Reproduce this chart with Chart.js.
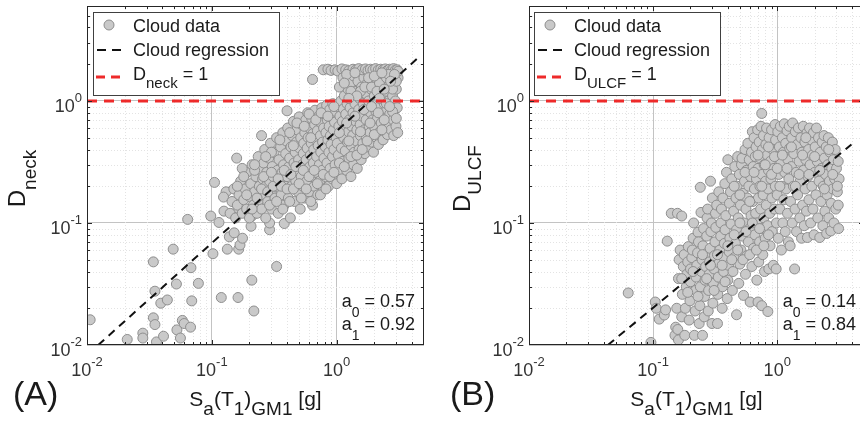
<!DOCTYPE html>
<html>
<head>
<meta charset="utf-8">
<script src="https://cdn.jsdelivr.net/npm/chart.js@4.4.0/dist/chart.umd.min.js"></script>
<style>
html, body { margin: 0; padding: 0; background: #fff; overflow: hidden; width: 860px; height: 424px; }
#wrapA { position: absolute; left: 0; top: 0; }
#wrapB { position: absolute; left: 430px; top: 0; }
</style>
</head>
<body>
<div id="wrapA"><canvas id="chartA" width="430" height="424"></canvas></div>
<div id="wrapB"><canvas id="chartB" width="440" height="424"></canvas></div>
<script>
// axis limits and tick labels (both panels)
const xLimits = [0.01, 5];
const yLimits = [0.01, 6];
const decadeTicks = [0.01, 0.1, 1];
const decadeLabels = [['10', '-2'], ['10', '-1'], ['10', '0']];
const limitValue = 1;

// (A) neck damage vs Sa
const cloudA = [
  [0.0106,0.0161],[0.021,0.0111],[0.028,0.0125],[0.028,0.0114],[0.034,0.0167],[0.035,0.0147],[0.036,0.0106],[0.041,0.0118],
  [0.039,0.022],[0.044,0.0234],[0.035,0.0276],[0.034,0.048],[0.049,0.061],[0.052,0.0316],[0.0525,0.0133],[0.056,0.0114],
  [0.058,0.0159],[0.06,0.015],[0.0675,0.014],[0.069,0.023],[0.068,0.043],[0.078,0.032],[0.064,0.107],[0.098,0.114],
  [0.102,0.056],[0.119,0.0245],[0.162,0.0245],[0.217,0.019],[0.209,0.034],[0.33,0.044],
  [0.133,0.061],[0.164,0.061],[0.168,0.066],[0.138,0.077],[0.151,0.083],[0.176,0.075],
  [0.105,0.215],[0.13,0.18],[0.124,0.163],[0.114,0.101],[0.125,0.125],[0.162,0.131],[0.209,0.114],[0.29,0.088],
  [0.38,0.099],[0.29,0.1],[0.206,0.094],[0.25,0.52],[0.158,0.34],[0.4,0.83],[0.64,1.5],
  [0.14,0.12],[0.145,0.15],[0.15,0.19],[0.155,0.11],[0.16,0.14],[0.165,0.17],[0.17,0.22],[0.175,0.12],[0.18,0.155],
  [0.185,0.19],[0.19,0.26],[0.19,0.13],[0.175,0.28],[0.2,0.11],[0.2,0.165],[0.205,0.21],[0.21,0.3],[0.215,0.14],
  [0.22,0.18],[0.225,0.24],[0.23,0.12],[0.235,0.35],[0.24,0.155],[0.24,0.2],[0.245,0.27],[0.25,0.13],[0.255,0.23],
  [0.26,0.17],[0.26,0.31],[0.265,0.4],[0.27,0.11],[0.27,0.2],[0.275,0.26],[0.28,0.15],[0.285,0.34],[0.29,0.22],
  [0.295,0.45],[0.3,0.13],[0.3,0.18],[0.305,0.29],[0.31,0.24],[0.315,0.38],[0.32,0.16],[0.325,0.2],[0.33,0.5],
  [0.335,0.27],[0.34,0.12],[0.345,0.33],[0.35,0.22],[0.355,0.42],[0.36,0.17],[0.365,0.26],[0.37,0.55],[0.375,0.3],
  [0.38,0.14],[0.385,0.2],[0.39,0.37],[0.395,0.47],[0.4,0.24],[0.405,0.6],[0.41,0.16],[0.415,0.29],[0.42,0.34],
  [0.425,0.11],[0.43,0.42],[0.435,0.2],[0.44,0.52],[0.445,0.25],[0.45,0.68],[0.455,0.31],[0.46,0.15],[0.465,0.38],
  [0.47,0.22],[0.475,0.46],[0.48,0.58],[0.485,0.27],[0.49,0.18],[0.495,0.33],[0.5,0.74],[0.505,0.41],[0.51,0.13],
  [0.515,0.5],[0.52,0.24],[0.525,0.64],[0.53,0.3],[0.535,0.2],[0.54,0.37],[0.545,0.45],[0.55,0.16],[0.555,0.55],
  [0.56,0.27],[0.565,0.7],[0.57,0.33],[0.575,0.22],[0.58,0.41],[0.585,0.8],[0.59,0.5],[0.6,0.18],[0.605,0.6],
  [0.61,0.29],[0.615,0.36],[0.62,0.24],[0.625,0.45],[0.63,0.72],[0.64,0.14],[0.645,0.54],[0.65,0.31],[0.655,0.4],
  [0.66,0.2],[0.665,0.64],[0.67,0.84],[0.68,0.26],[0.685,0.48],[0.69,0.35],[0.7,0.57],[0.705,0.17],[0.71,0.43],
  [0.72,0.75],[0.725,0.3],[0.73,0.22],[0.74,0.52],[0.745,0.38],[0.75,0.66],[0.76,0.88],[0.765,0.27],[0.77,0.46],
  [0.78,0.19],[0.785,0.6],[0.79,0.34],[0.8,0.78],[0.81,0.42],[0.815,0.24],[0.82,0.55],[0.83,0.92],[0.835,0.31],
  [0.84,0.7],[0.85,0.48],[0.86,0.2],[0.865,0.38],[0.87,0.62],[0.88,0.85],[0.885,0.28],[0.89,0.52],[0.9,0.44],
  [0.91,0.74],[0.92,0.23],[0.925,0.35],[0.93,0.95],[0.94,0.58],[0.95,0.4],[0.96,0.67],[0.97,0.3],[0.98,0.82],
  [0.99,0.5],[1.0,0.21],[1.01,0.45],[1.02,0.9],[1.03,0.36],[1.04,0.62],[1.05,0.27],[1.06,0.75],[1.07,0.54],
  [1.08,1.0],[1.09,0.41],[1.1,0.23],[1.11,0.68],[1.12,0.32],[1.13,0.86],[1.14,0.5],[1.15,1.1],[1.16,0.6],
  [1.17,0.39],[1.18,0.78],[1.2,0.27],[1.21,0.95],[1.22,0.46],[1.23,1.25],[1.24,0.56],[1.25,0.34],[1.26,0.7],
  [1.28,0.88],[1.29,1.4],[1.3,0.24],[1.31,0.43],[1.32,0.62],[1.33,1.05],[1.34,0.52],[1.35,0.8],[1.36,0.3],
  [1.37,1.6],[1.38,0.38],[1.4,0.95],[1.42,0.68],[1.43,1.2],[1.44,0.47],[1.45,0.58],[1.46,0.28],[1.48,1.45],
  [1.5,0.85],[1.51,0.4],[1.52,1.05],[1.54,0.64],[1.55,0.52],[1.56,1.75],[1.57,0.33],[1.58,1.3],[1.6,0.75],
  [1.62,0.45],[1.63,0.95],[1.65,1.55],[1.66,0.58],[1.68,0.37],[1.7,1.15],[1.72,0.7],[1.73,0.5],[1.75,0.87],
  [1.76,1.4],[1.78,0.42],[1.8,1.0],[1.82,0.62],[1.83,1.7],[1.85,0.55],[1.87,0.8],[1.88,1.25],[1.9,0.46],
  [1.92,1.5],[1.94,0.7],[1.95,0.95],[1.97,0.38],[2.0,1.1],[2.02,0.6],[2.04,1.35],[2.06,0.82],[2.08,0.5],
  [2.1,1.65],[2.12,0.72],[2.14,1.0],[2.16,0.44],[2.18,1.22],[2.2,0.9],[2.22,0.56],[2.25,1.5],[2.27,0.66],
  [2.3,1.1],[2.32,0.78],[2.35,0.48],[2.37,1.35],[2.4,0.95],[2.42,0.6],[2.45,1.7],[2.47,0.72],[2.5,1.2],
  [2.52,0.85],[2.55,0.53],[2.58,1.45],[2.6,1.0],[2.63,0.65],[2.66,0.78],[2.7,1.3],[2.72,0.58],[2.75,0.92],
  [2.78,1.6],[2.8,1.1],[2.83,0.7],[2.86,0.52],[2.9,1.4],[2.92,0.85],[2.95,1.0],[2.98,0.62],[3.0,1.25],
  [3.05,0.88],[3.08,0.55],[3.1,1.55],
  [0.78,1.8],[0.85,1.82],[0.9,1.78],[0.97,1.8],[1.02,1.76],[1.1,1.83],[1.18,1.8],[1.25,1.77],[1.35,1.82],
  [1.42,1.79],[1.5,1.84],[1.6,1.8],[1.7,1.83],[1.78,1.78],[1.86,1.82],[1.95,1.8],[2.05,1.84],[2.15,1.79],
  [2.25,1.82],[2.35,1.8],[2.45,1.83],[2.55,1.78],[2.65,1.82],[2.75,1.8],[2.85,1.84],[2.95,1.79],[3.05,1.8],[3.1,1.75],
  [1.05,1.3],[1.12,1.55],[1.2,1.65],[1.3,1.2],[1.15,1.4],[1.4,1.7],[1.55,1.2],[1.68,1.3],[1.9,1.3],[2.2,1.4],
  [2.5,1.55],[2.8,1.25],[3.0,1.45],[2.1,1.2],[2.4,1.25],[2.6,1.65],[2.9,1.65],[1.8,1.55],[2.0,1.6],[1.45,1.1],
  [1.25,1.05],[2.3,1.7],[2.7,1.45],
  [0.16,0.2],[0.18,0.24],[0.19,0.17],[0.21,0.13],[0.22,0.27],[0.23,0.16],[0.25,0.19],[0.26,0.24],[0.28,0.18],
  [0.29,0.14],[0.3,0.26],[0.31,0.2],[0.33,0.15],[0.34,0.23],[0.36,0.2],[0.37,0.13],[0.38,0.27],[0.4,0.19],
  [0.42,0.15],[0.43,0.25],[0.45,0.19],[0.47,0.29],[0.5,0.21],[0.52,0.16],[0.54,0.27],[0.57,0.19],[0.6,0.24],
  [0.62,0.15],[0.66,0.27],[0.7,0.21],[0.74,0.17],[0.78,0.25],[0.82,0.19],[0.88,0.24],[0.95,0.26],[1.05,0.31],
  [1.15,0.29],[1.3,0.35],[1.45,0.36],[1.6,0.4],[1.75,0.47],[2.0,0.53],[2.3,0.58],
  [0.35,0.48],[0.42,0.55],[0.48,0.66],[0.55,0.62],[0.6,0.78],[0.68,0.7],[0.75,0.8],[0.85,0.75],[0.95,0.9],
  [0.3,0.38],[0.27,0.35],[0.22,0.3],[0.45,0.43],[0.62,0.5],
  [1.05,0.55],[1.2,0.66],[1.4,0.75],[1.65,0.85],[1.9,0.9],[2.2,1.05],[2.5,0.95],[2.8,0.82],[3.0,0.72],
  [1.25,0.47],[1.55,0.56],[1.85,0.66],[2.15,0.8],[2.4,0.7],[2.65,0.9]
];
const regressionA = [[0.0123, 0.01], [4.45, 2.24]];
const coefA = ['0.57', '0.92'];

// (B) ULCF damage vs Sa
const cloudB = [
  [0.063,0.0267],[0.096,0.0105],[0.104,0.0225],[0.106,0.02],[0.112,0.0163],[0.123,0.0176],[0.126,0.0194],[0.13,0.071],[0.14,0.12],
  [0.15,0.012],[0.152,0.014],[0.155,0.02],[0.158,0.0134],[0.16,0.011],[0.16,0.035],[0.162,0.05],[0.165,0.06],[0.157,0.12],
  [0.17,0.017],[0.172,0.026],[0.175,0.044],[0.178,0.055],[0.17,0.114],[0.18,0.012],[0.182,0.02],[0.185,0.03],[0.187,0.038],
  [0.19,0.048],[0.192,0.064],[0.195,0.016],[0.198,0.023],[0.2,0.033],[0.2,0.042],[0.205,0.052],[0.207,0.06],[0.21,0.075],
  [0.212,0.1],[0.215,0.012],[0.218,0.019],[0.22,0.028],[0.222,0.036],[0.225,0.045],[0.228,0.057],[0.23,0.084],[0.232,0.07],
  [0.235,0.015],[0.238,0.021],[0.24,0.03],[0.243,0.122],[0.24,0.196],[0.245,0.04],[0.248,0.05],[0.25,0.012],[0.252,0.065],
  [0.255,0.09],[0.258,0.017],[0.26,0.025],[0.262,0.034],[0.265,0.044],[0.268,0.056],[0.27,0.078],[0.272,0.11],[0.275,0.13],
  [0.278,0.019],[0.28,0.028],[0.283,0.038],[0.285,0.048],[0.288,0.062],[0.29,0.22],[0.292,0.085],[0.295,0.1],[0.298,0.015],
  [0.3,0.16],[0.303,0.022],[0.306,0.032],[0.31,0.042],[0.312,0.054],[0.315,0.07],[0.318,0.12],[0.32,0.092],[0.325,0.14],
  [0.33,0.015],[0.332,0.026],[0.335,0.036],[0.338,0.18],[0.34,0.047],[0.345,0.06],[0.35,0.078],[0.352,0.1],[0.355,0.13],
  [0.36,0.02],[0.362,0.03],[0.365,0.16],[0.37,0.04],[0.372,0.052],[0.375,0.068],[0.378,0.21],[0.38,0.088],[0.385,0.115],
  [0.39,0.26],[0.395,0.024],[0.4,0.034],[0.4,0.33],[0.405,0.045],[0.41,0.058],[0.412,0.145],[0.415,0.075],[0.42,0.18],
  [0.425,0.098],[0.43,0.23],[0.435,0.028],[0.44,0.04],[0.445,0.125],[0.45,0.052],[0.455,0.29],[0.46,0.068],[0.465,0.16],
  [0.47,0.0177],[0.47,0.088],[0.475,0.2],[0.48,0.35],[0.485,0.11],[0.49,0.032],[0.495,0.25],[0.5,0.046],[0.505,0.14],
  [0.51,0.06],[0.515,0.3],[0.52,0.34],[0.525,0.078],[0.53,0.175],[0.535,0.0255],[0.54,0.1],[0.545,0.22],[0.55,0.4],
  [0.555,0.038],[0.56,0.13],[0.565,0.27],[0.57,0.054],[0.575,0.16],[0.58,0.45],[0.585,0.07],[0.59,0.2],[0.595,0.33],
  [0.6,0.09],[0.605,0.0225],[0.61,0.24],[0.615,0.115],[0.62,0.38],[0.625,0.044],[0.63,0.56],[0.635,0.15],[0.64,0.29],
  [0.645,0.062],[0.65,0.5],[0.655,0.19],[0.66,0.08],[0.665,0.35],[0.67,0.12],[0.675,0.42],[0.68,0.23],[0.685,0.034],
  [0.69,0.1],[0.695,0.58],[0.7,0.0225],[0.7,0.28],[0.705,0.16],[0.71,0.048],[0.715,0.46],[0.72,0.07],[0.725,0.2],
  [0.73,0.34],[0.735,0.13],[0.74,0.62],[0.745,0.09],[0.75,0.021],[0.75,0.79],[0.755,0.25],[0.76,0.4],[0.765,0.055],
  [0.77,0.17],[0.775,0.52],[0.78,0.11],[0.785,0.3],[0.79,0.04],[0.8,0.075],[0.805,0.22],[0.81,0.44],[0.815,0.14],
  [0.82,0.6],[0.83,0.36],[0.835,0.095],[0.84,0.0188],[0.845,0.19],[0.85,0.27],[0.855,0.042],[0.86,0.5],[0.87,0.12],
  [0.875,0.065],[0.88,0.32],[0.89,0.23],[0.9,0.58],[0.905,0.16],[0.91,0.085],[0.92,0.4],[0.93,0.045],[0.94,0.28],
  [0.95,0.13],[0.96,0.64],[0.965,0.2],[0.97,0.48],[0.98,0.042],[0.985,0.1],[0.99,0.35],[1.0,0.17],[1.01,0.56],
  [1.02,0.075],[1.03,0.25],[1.04,0.42],[1.05,0.13],[1.06,0.62],[1.07,0.31],[1.08,0.06],[1.09,0.2],[1.1,0.5],
  [1.11,0.1],[1.12,0.38],[1.13,0.155],[1.14,0.65],[1.15,0.26],[1.16,0.085],[1.17,0.45],[1.18,0.19],[1.2,0.57],
  [1.21,0.12],[1.22,0.33],[1.23,0.07],[1.24,0.23],[1.25,0.62],[1.26,0.41],[1.27,0.065],[1.28,0.15],[1.3,0.29],
  [1.31,0.5],[1.32,0.1],[1.33,0.66],[1.35,0.2],[1.36,0.37],[1.38,0.042],[1.39,0.13],[1.4,0.56],[1.42,0.26],
  [1.43,0.085],[1.45,0.44],[1.46,0.17],[1.48,0.6],[1.5,0.32],[1.52,0.11],[1.53,0.22],[1.55,0.5],[1.57,0.075],
  [1.58,0.38],[1.6,0.14],[1.62,0.62],[1.63,0.27],[1.65,0.095],[1.67,0.46],[1.68,0.19],[1.7,0.33],[1.72,0.125],
  [1.74,0.55],[1.75,0.076],[1.77,0.24],[1.79,0.4],[1.8,0.155],[1.82,0.6],[1.84,0.3],[1.86,0.1],[1.88,0.48],
  [1.9,0.2],[1.92,0.36],[1.94,0.13],[1.96,0.55],[1.98,0.08],[2.0,0.26],[2.02,0.42],[2.05,0.17],[2.07,0.6],
  [2.1,0.32],[2.12,0.11],[2.15,0.5],[2.17,0.22],[2.2,0.076],[2.22,0.38],[2.25,0.15],[2.27,0.28],[2.3,0.46],
  [2.33,0.095],[2.35,0.2],[2.38,0.52],[2.4,0.34],[2.42,0.125],[2.45,0.25],[2.48,0.42],[2.5,0.082],[2.52,0.17],
  [2.55,0.3],[2.58,0.5],[2.6,0.11],[2.63,0.22],[2.66,0.38],[2.7,0.086],[2.72,0.145],[2.75,0.28],[2.78,0.46],
  [2.8,0.19],[2.83,0.33],[2.86,0.1],[2.9,0.23],[2.93,0.4],[2.96,0.13],[3.0,0.28],[3.05,0.18],[3.1,0.32],
  [3.12,0.09],[3.15,0.23],[3.1,0.14],[3.05,0.2],
  [0.17,0.035],[0.19,0.027],[0.21,0.04],[0.23,0.025],[0.25,0.055],[0.27,0.035],[0.29,0.045],[0.31,0.028],
  [0.33,0.055],[0.36,0.045],[0.38,0.033],[0.4,0.065],[0.43,0.05],[0.45,0.08],[0.48,0.06],[0.5,0.1],[0.53,0.05],
  [0.56,0.085],[0.6,0.055],[0.63,0.1],[0.68,0.06],[0.72,0.09],[0.78,0.065],[0.85,0.08],
  [0.45,0.2],[0.5,0.17],[0.55,0.26],[0.6,0.15],[0.65,0.26],[0.7,0.36],[0.75,0.2],[0.8,0.3],[0.85,0.42],
  [0.9,0.25],[0.95,0.35],[1.0,0.28],[1.05,0.2],[1.1,0.36],[1.2,0.28],[1.3,0.42],[1.4,0.2],[1.5,0.25],
  [1.6,0.36],[1.7,0.5],[1.8,0.25],[2.0,0.35],[2.2,0.27],[2.4,0.19],[2.6,0.4],[2.8,0.25]
];
const regressionB = [[0.0432, 0.01], [3.96, 0.44]];
const coefB = ['0.14', '0.84'];

const FONT = '"Liberation Sans", Arial, Helvetica, sans-serif';
const INK = '#262626';

function toXY(arr) {
  return arr.map(p => ({ x: p[0], y: p[1] }));
}

function allTicks() {
  let list = [];
  decadeTicks.forEach(d => {
    for (let m = 1; m <= 9; m++) list.push(+(m * d).toPrecision(3));
  });
  list.push(10);
  return list;
}

// draw a string made of normal / sub / superscript pieces
function drawRich(ctx, parts, x, y, align) {
  let w = 0;
  parts.forEach(p => {
    ctx.font = p.size + 'px ' + FONT;
    p.w = ctx.measureText(p.t).width;
    w += p.w;
  });
  let cx = align === 'center' ? x - w / 2 : (align === 'right' ? x - w : x);
  ctx.textAlign = 'left';
  ctx.textBaseline = 'alphabetic';
  parts.forEach(p => {
    ctx.font = p.size + 'px ' + FONT;
    ctx.fillText(p.t, cx, y + (p.dy || 0));
    cx += p.w;
  });
}

const decorPlugin = {
  id: 'decor',
  beforeDatasetsDraw(chart) {
    // minor dotted grid
    const { ctx, chartArea: a } = chart;
    const xs = chart.scales.x, ys = chart.scales.y;
    ctx.save();
    ctx.strokeStyle = '#e3e3e3';
    ctx.lineWidth = 1;
    ctx.setLineDash([1, 2]);
    allTicks().forEach(v => {
      if (decadeTicks.includes(v)) return;
      if (v > xLimits[0] && v < xLimits[1]) {
        const px = Math.round(xs.getPixelForValue(v)) + 0.5;
        ctx.beginPath(); ctx.moveTo(px, a.top); ctx.lineTo(px, a.bottom); ctx.stroke();
      }
      if (v > yLimits[0] && v < yLimits[1]) {
        const py = Math.round(ys.getPixelForValue(v)) + 0.5;
        ctx.beginPath(); ctx.moveTo(a.left, py); ctx.lineTo(a.right, py); ctx.stroke();
      }
    });
    ctx.restore();
  },
  afterDraw(chart, args, o) {
    const { ctx, chartArea: a } = chart;
    const xs = chart.scales.x, ys = chart.scales.y;
    ctx.save();

    // box and inward ticks
    ctx.strokeStyle = INK;
    ctx.lineWidth = 1;
    ctx.strokeRect(a.left + 0.5, a.top + 0.5, a.right - a.left - 1, a.bottom - a.top - 1);
    ctx.beginPath();
    allTicks().forEach(v => {
      const len = decadeTicks.includes(v) ? 5 : 3;
      if (v > xLimits[0] && v < xLimits[1]) {
        const px = Math.round(xs.getPixelForValue(v)) + 0.5;
        ctx.moveTo(px, a.bottom); ctx.lineTo(px, a.bottom - len);
        ctx.moveTo(px, a.top); ctx.lineTo(px, a.top + len);
      }
      if (v > yLimits[0] && v < yLimits[1]) {
        const py = Math.round(ys.getPixelForValue(v)) + 0.5;
        ctx.moveTo(a.left, py); ctx.lineTo(a.left + len, py);
        ctx.moveTo(a.right, py); ctx.lineTo(a.right - len, py);
      }
    });
    ctx.stroke();

    // tick labels 10^n
    ctx.fillStyle = '#333333';
    decadeTicks.forEach((v, i) => {
      const lab = decadeLabels[i];
      const px = xs.getPixelForValue(v);
      drawRich(ctx, [{ t: lab[0], size: 18 }, { t: lab[1], size: 13, dy: -10 }], px, a.bottom + 31, 'center');
      const py = ys.getPixelForValue(v);
      drawRich(ctx, [{ t: lab[0], size: 18 }, { t: lab[1], size: 13, dy: -10 }], a.left - 5, py + 11, 'right');
    });

    // axis titles
    ctx.fillStyle = '#1a1a1a';
    const cxp = (a.left + a.right) / 2;
    drawRich(ctx, [
      { t: 'S', size: 21 }, { t: 'a', size: 19, dy: 9 }, { t: '(T', size: 21 }, { t: '1', size: 19, dy: 9 },
      { t: ')', size: 21 }, { t: 'GM1', size: 19, dy: 9 }, { t: ' [g]', size: 21 }
    ], cxp, 406, 'center');
    ctx.save();
    ctx.translate(o.yTitleX, (a.top + a.bottom) / 2 + 3);
    ctx.rotate(-Math.PI / 2);
    drawRich(ctx, [{ t: 'D', size: 24 }, { t: o.sub, size: 19, dy: 11 }], 0, 0, 'center');
    ctx.restore();

    // panel label
    ctx.font = '34px ' + FONT;
    ctx.textAlign = 'left';
    ctx.fillText(o.panel, o.panelX, 405);

    // coefficients
    drawRich(ctx, [{ t: 'a', size: 18 }, { t: '0', size: 14, dy: 10 }, { t: ' = ' + o.coef[0], size: 18 }], o.coefRight, 307, 'right');
    drawRich(ctx, [{ t: 'a', size: 18 }, { t: '1', size: 14, dy: 10 }, { t: ' = ' + o.coef[1], size: 18 }], o.coefRight, 330, 'right');

    // legend
    const lx = o.legendX, ly = 12;
    ctx.fillStyle = '#fff';
    ctx.fillRect(lx, ly, 186, 83);
    ctx.strokeStyle = '#404040';
    ctx.lineWidth = 1;
    ctx.strokeRect(lx + 0.5, ly + 0.5, 186, 83);
    ctx.beginPath();
    ctx.arc(lx + 16, ly + 13, 5, 0, Math.PI * 2);
    ctx.fillStyle = '#c9c9c9'; ctx.fill();
    ctx.strokeStyle = '#8e8e8e'; ctx.stroke();
    ctx.setLineDash([9, 6]);
    ctx.strokeStyle = '#111'; ctx.lineWidth = 2;
    ctx.beginPath(); ctx.moveTo(lx + 4, ly + 38); ctx.lineTo(lx + 28, ly + 38); ctx.stroke();
    ctx.strokeStyle = '#ee2a2a'; ctx.lineWidth = 3;
    ctx.beginPath(); ctx.moveTo(lx + 3, ly + 65); ctx.lineTo(lx + 29, ly + 65); ctx.stroke();
    ctx.setLineDash([]);
    ctx.fillStyle = '#1a1a1a';
    drawRich(ctx, [{ t: 'Cloud data', size: 18 }], lx + 40, ly + 20, 'left');
    drawRich(ctx, [{ t: 'Cloud regression', size: 18 }], lx + 40, ly + 44, 'left');
    drawRich(ctx, [{ t: 'D', size: 18 }, { t: o.sub, size: 15, dy: 8 }, { t: ' = 1', size: 18 }], lx + 40, ly + 68, 'left');

    ctx.restore();
  }
};

function makePanel(id, cloud, reg, opts) {
  return new Chart(document.getElementById(id), {
    type: 'scatter',
    data: {
      datasets: [
        {
          type: 'line', data: [{ x: xLimits[0], y: limitValue }, { x: xLimits[1], y: limitValue }],
          borderColor: '#ee2a2a', borderWidth: 3, borderDash: [10, 7], pointRadius: 0, fill: false
        },
        {
          type: 'line', data: toXY(reg),
          borderColor: '#111', borderWidth: 2, borderDash: [8, 6], pointRadius: 0, fill: false
        },
        {
          data: toXY(cloud), pointRadius: 5, pointBackgroundColor: '#c9c9c9',
          pointBorderColor: '#8e8e8e', pointBorderWidth: 1
        }
      ]
    },
    options: {
      responsive: false,
      animation: false,
      layout: { padding: opts.padding },
      plugins: { legend: { display: false }, tooltip: { enabled: false }, decor: opts },
      scales: {
        x: {
          type: 'logarithmic', min: xLimits[0], max: xLimits[1],
          ticks: { display: false },
          grid: { drawTicks: false, color: c => decadeTicks.includes(c.tick.value) ? '#c3c3c3' : 'rgba(0,0,0,0)' },
          border: { display: false },
          afterBuildTicks: s => { s.ticks = allTicks().filter(v => v >= xLimits[0] && v <= xLimits[1]).map(v => ({ value: v })); },
          afterFit: s => { s.height = 0; }
        },
        y: {
          type: 'logarithmic', min: yLimits[0], max: yLimits[1],
          ticks: { display: false },
          grid: { drawTicks: false, color: c => decadeTicks.includes(c.tick.value) ? '#c3c3c3' : 'rgba(0,0,0,0)' },
          border: { display: false },
          afterBuildTicks: s => { s.ticks = allTicks().filter(v => v >= yLimits[0] && v <= yLimits[1]).map(v => ({ value: v })); },
          afterFit: s => { s.width = 0; }
        }
      }
    },
    plugins: [decorPlugin]
  });
}

makePanel('chartA', cloudA, regressionA, {
  padding: { left: 87, right: 5, top: 5, bottom: 79 },
  sub: 'neck', panel: '(A)', panelX: 13, yTitleX: 25, coef: coefA, coefRight: 415, legendX: 93
});
makePanel('chartB', cloudB, regressionB, {
  padding: { left: 99, right: 4, top: 5, bottom: 79 },
  sub: 'ULCF', panel: '(B)', panelX: 20, yTitleX: 40, coef: coefB, coefRight: 426, legendX: 104
});
</script>
</body>
</html>
